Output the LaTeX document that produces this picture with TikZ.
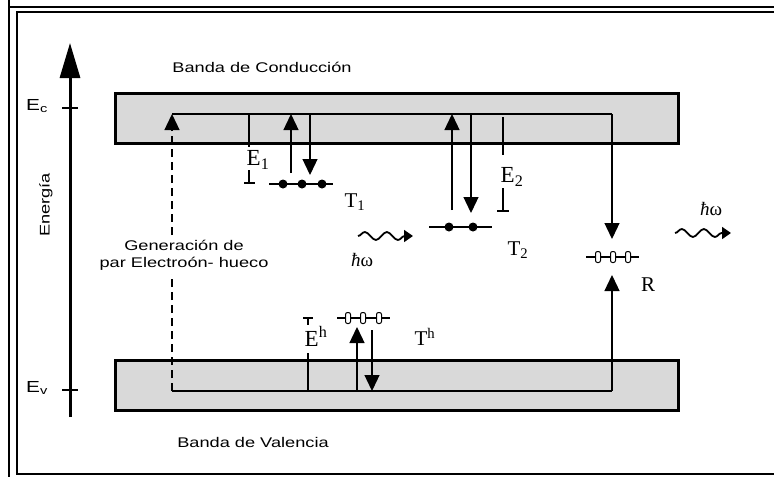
\documentclass[tikz,border=0pt]{standalone}
\usepackage{fontspec}
\setmainfont{Liberation Serif}
\newfontfamily\labfont[FakeStretch=1.3]{Liberation Sans}
\usepackage{tikz}
\usetikzlibrary{arrows.meta,calc,decorations.pathmorphing}
\definecolor{bandgray}{RGB}{217,217,217}

\begin{document}
\begin{tikzpicture}[
  x=1pt, y=-1pt,
  band/.style={draw, line width=3pt, fill=bandgray, minimum width=563pt, minimum height=50pt, inner sep=0pt},
  lab/.style={font=\labfont\fontsize{14}{17}\selectfont, align=center, inner sep=1pt},
  elab/.style={font=\fontsize{23}{24}\selectfont, inner sep=0pt},
  tlab/.style={font=\fontsize{21}{22}\selectfont, inner sep=0pt},
  hw/.style={font=\fontsize{19}{20}\selectfont, inner sep=0pt},
  tip/.style={-{Triangle[length=16pt,width=15pt]}, line width=1.3pt},
  inner/.style={line width=1.3pt},
  trapline/.style={line width=2.5pt},
  elec/.style={circle, fill, inner sep=0pt, minimum size=9pt},
  hole/.style={draw, fill=white, rounded corners=2pt, line width=1pt, inner sep=0pt, minimum width=5pt, minimum height=11pt},
  photon/.style={decorate, decoration={snake, segment length=22pt, amplitude=4pt, post length=8pt}, line width=1.8pt, -{Triangle[length=9pt,width=12pt]}}
]
\useasboundingbox (0,0) rectangle (774,477);
% frame
\draw[line width=1.5pt] (9,0) -- (9,477);
\draw[line width=1.5pt] (9,7) -- (774,7);
\draw[line width=1.5pt] (774,12) -- (17,12) -- (17,474) -- (774,474);

% energy axis
\coordinate (ax0) at (70,417);
\coordinate (ax1) at (70,43);
\draw[line width=3pt, -{Triangle[length=35pt,width=20pt]}] (ax0) -- (ax1);
\draw[line width=2.5pt] (62,108) -- (78,108);
\draw[line width=2.5pt] (62,390) -- (78,390);
\node[lab, font=\labfont\fontsize{16}{18}\selectfont] (ec) at (37,106) {E\textsubscript{c}};
\node[lab, font=\labfont\fontsize{16}{18}\selectfont] (ev) at (37,388) {E\textsubscript{v}};
\node[lab, rotate=90] (en) at (46,205) {Energía};

% bands
\node[band] (cb) at (396.5,118) {};
\node[band] (vb) at (396.5,385) {};
\node[lab] (cbl) at (262,67) {Banda de Conducción};
\node[lab] (vbl) at (253,442) {Banda de Valencia};

% paths inside the bands
\coordinate (gc) at (172,114);
\coordinate (gv) at (172,391);
\coordinate (rc) at (612,114);
\coordinate (rv) at (612,391);
\draw[inner] (gc) -- (rc);
\draw[inner] (gv) -- (rv);
\draw[tip, dash pattern=on 8pt off 5pt] (gv) -- (gc);
\node[lab, fill=white, inner sep=4pt] (gen) at (184,255) {Generación de\\par Electroón- hueco};

% trap T1
\coordinate (t1) at (301,184);
\draw[trapline] ($(t1)+(-32,0)$) -- ($(t1)+(32,0)$);
\foreach \dx in {-18,1,21} \node[elec] at ($(t1)+(\dx,0)$) {};
\draw[tip] ($(t1)+(-10,-11)$) -- ($(t1)+(-10,-70)$);
\draw[tip] ($(t1)+(9,-70)$) -- ($(t1)+(9,-9)$);
\node[tlab] (t1l) at (355,202) {T\textsubscript{1}};

% E1
\draw[inner] (249,114) -- (249,147);
\node[elab] (e1) at (258,160) {E\textsubscript{1}};
\draw[inner] (249,170) -- (249,183);
\draw[inner] (244,183) -- (255,183);

% trap T2
\coordinate (t2) at (460,227);
\draw[trapline] ($(t2)+(-31,0)$) -- ($(t2)+(32,0)$);
\foreach \dx in {-11,13} \node[elec] at ($(t2)+(\dx,0)$) {};
\draw[tip] ($(t2)+(-8,-17)$) -- ($(t2)+(-8,-113)$);
\draw[tip] ($(t2)+(11,-113)$) -- ($(t2)+(11,-14)$);
\node[tlab] (t2l) at (518,250) {T\textsubscript{2}};

% E2
\draw[inner] (503,117) -- (503,155);
\node[elab] (e2) at (512,177) {E\textsubscript{2}};
\draw[inner] (503,188) -- (503,211);
\draw[inner] (497,211) -- (509,211);

% recombination centre R
\coordinate (r) at (612,257);
\draw[trapline] ($(r)+(-26,0)$) -- ($(r)+(27,0)$);
\foreach \dx in {-14,1,16} \node[hole] at ($(r)+(\dx,0)$) {};
\draw[tip] (rc) -- ($(r)+(0,-18)$);
\draw[tip] (rv) -- ($(r)+(0,18)$);
\node[tlab] (rl) at (648,285) {R};

% hole trap Th
\coordinate (th) at (363,318);
\draw[trapline] ($(th)+(-26,0)$) -- ($(th)+(27,0)$);
\foreach \dx in {-15,0,16} \node[hole] at ($(th)+(\dx,0)$) {};
\draw[tip] ($(th)+(-6,73)$) -- ($(th)+(-6,9)$);
\draw[tip] ($(th)+(9,12)$) -- ($(th)+(9,73)$);
\node[tlab] (thl) at (425,337) {T\textsuperscript{h}};

% Eh
\draw[inner] (308,391) -- (308,353);
\node[elab] (eh) at (316,336) {E\textsuperscript{h}};
\draw[inner] (308,318) -- (308,325);
\draw[inner] (303,318) -- (313,318);

% photons
\coordinate (p1a) at (358,236);
\coordinate (p1b) at (413,236);
\draw[photon] (p1a) -- (p1b);
\node[hw] (hw1) at (362,260) {\textit{ħ}ω};
\coordinate (p2a) at (675,233);
\coordinate (p2b) at (731,233);
\draw[photon] (p2a) -- (p2b);
\node[hw] (hw2) at (711,209) {\textit{ħ}ω};
\end{tikzpicture}
\end{document}
